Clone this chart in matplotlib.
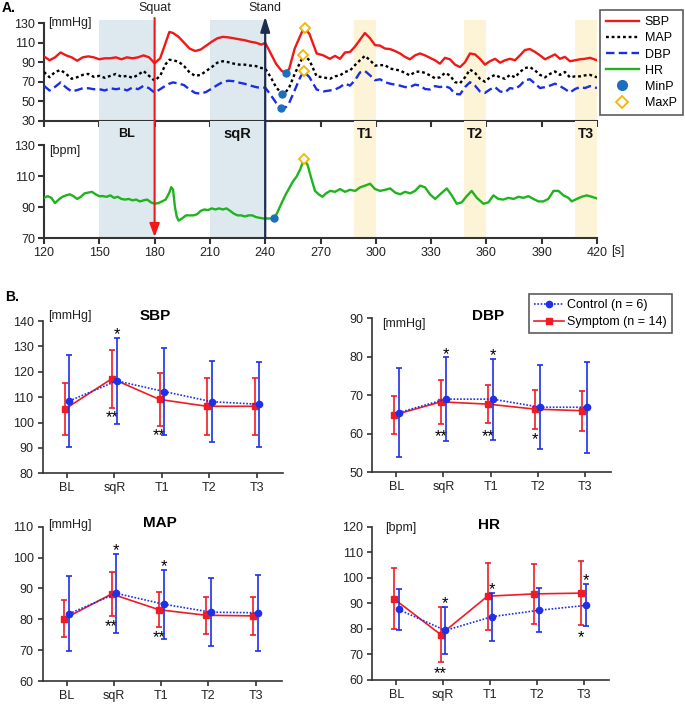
import numpy as np
import matplotlib.pyplot as plt
from matplotlib.lines import Line2D
from matplotlib.patches import FancyArrowPatch
import matplotlib.transforms as mtransforms

plt.rcParams['font.family'] = ['Liberation Sans', 'DejaVu Sans']

# ---------------- panel A: continuous recordings ----------------
bp_t = [120, 123, 126, 129, 132, 135, 138, 141, 144, 147, 150, 153, 156, 159, 162, 165,
        168, 171, 174, 177, 180, 183, 186, 188, 190, 193, 196, 199, 202, 205, 208, 211,
        214, 217, 220, 223, 226, 229, 232, 235, 238, 240, 243, 246, 249, 251, 253, 256,
        259, 261, 264,
        267.9, 271.5, 275.1, 277.9, 280.6, 283.3, 286.0, 288.7, 291.4, 294.1, 296.9, 299.6,
        302.3, 305.0, 307.7, 310.4, 313.1, 315.8, 318.5, 321.3, 324.0, 326.7, 329.4, 332.1,
        334.8, 337.5, 340.2, 343.0, 345.7, 348.4, 351.1, 353.8, 356.5, 359.2, 361.9, 364.7,
        367.4, 370.1, 372.8, 375.5, 378.2, 380.9, 383.6, 386.4, 389.1, 391.8, 394.5, 397.2,
        399.9, 402.6, 405.3, 408.1, 410.8, 413.5, 416.2, 420]

sbp = [96, 92, 95, 100, 97, 95, 91.5, 95, 96, 95, 93, 94, 94, 95, 93, 95,
       94, 95, 97, 95, 89, 94, 110, 121, 120, 116, 110, 104, 101.5, 103, 107, 111,
       114.5, 116, 115.5, 114.5, 113.5, 112.5, 111, 110, 108, 110, 99, 88, 81, 79.5, 83, 104,
       117, 125.5, 119,
       99, 97, 93.5, 96.5, 93.5, 100, 100.5, 106, 113, 120, 114.5, 107.5,
       107, 104, 103.5, 101.5, 99, 95.5, 93, 97, 99, 97, 94.5, 92,
       88.5, 94.5, 93, 87.5, 85, 90, 99, 98, 93.5, 87.5, 91, 93.5,
       89.5, 92, 93.5, 92, 97, 102.5, 103.5, 100.5, 97, 93, 95.5, 98,
       93.5, 95.5, 91, 92, 93, 93.5, 94.5, 92]

mapr = [80, 74.6, 80, 82, 78, 73, 74.6, 77, 78, 75, 76, 74, 76, 78, 75, 76,
        74, 77, 81, 76, 71, 76, 88, 92.5, 92, 90.5, 86, 79.5, 76, 77, 81, 85,
        89.5, 91, 90, 88.5, 87.5, 87.5, 86.5, 86, 84, 83.5, 74.6, 64, 58, 59, 64, 78,
        90, 97, 92,
        75.5, 74.5, 73, 75.5, 76.5, 80, 81.5, 87, 92, 96.5, 92, 86.5,
        87, 87, 83.5, 82.5, 81.5, 79, 76.5, 80, 80.5, 79, 76.5, 73.5,
        74.5, 79, 76.5, 69.5, 68.5, 74.5, 82.5, 79, 73, 70, 74.5, 77,
        74.5, 73, 77, 74.5, 80, 84, 85, 81.5, 77, 74.5, 78, 80.5,
        77, 80, 74.5, 75.5, 75.5, 76.5, 77, 74.5]

dbp = [65.8, 61, 64.7, 69.3, 64, 60, 61.4, 63.3, 63.3, 62.3, 62.3, 61, 63.3, 62.3, 63.3, 61,
       64, 62.3, 65.8, 63.3, 58.8, 62.3, 66, 68, 69.3, 68, 66.5, 62, 58.5, 57.7, 59.5, 63,
       66.5, 69.8, 71, 70.5, 69, 67.8, 66, 64.5, 63.5, 64, 56.3, 48.2, 43, 43.5, 48.2, 61.2,
       74.6, 80.5, 74.6,
       62, 60, 61, 62, 64.5, 68, 66, 71.5, 79.5, 81, 76.5, 71.5,
       72.5, 69.5, 68, 67, 66, 64.5, 64.5, 67, 66, 62.5, 62, 65.5,
       64.5, 65.5, 63.5, 57.5, 57, 64.5, 69.5, 66, 60, 58.5, 62, 64.5,
       60, 59, 63.5, 62.5, 66, 71.5, 72.5, 68, 63.5, 64.5, 66, 68,
       65.5, 62.5, 59, 62.5, 64.5, 63.5, 65.5, 63.5]

hr_t = [120, 122, 124, 126, 128, 130, 132, 134, 136, 138, 140, 142, 144, 146, 148, 150,
        152, 154, 156, 158, 160, 162, 164, 166, 168, 170, 172, 174, 176, 178, 180, 182,
        184, 186, 188, 189, 190, 191, 192, 193, 195, 197, 199, 201, 203, 205, 207, 209,
        211, 213, 215, 217, 219, 221, 223, 225, 227, 229, 231, 233, 235, 237, 239, 241,
        243, 245, 247, 249, 251, 253, 255, 257, 259, 261, 263, 265, 267, 269, 271, 273,
        275.2, 277.9, 280.6, 283.3, 286, 288.8, 291.5, 294.2, 296.9, 299.6, 302.3, 305,
        307.8, 310.5, 313.2, 315.9, 318.6, 321.3, 324, 326.7, 329.4, 332.2, 334.9, 338.5,
        341.2, 343.9, 346.6, 349.3, 352, 354.8, 358.4, 361.1, 363.8, 366.5, 369.2, 371.9,
        374.7, 377.4, 380.1, 382.8, 385.5, 388.2, 390.9, 393.6, 396.4, 399.1, 401.8, 404.5,
        406.3, 409, 411.7, 414.4, 417.2, 420]
hr = [96.1, 97.2, 96.1, 92.7, 95, 96.8, 97.7, 98.4, 97.2, 95.4, 96.8, 99, 99.5, 100, 98.4, 97.2,
      97.2, 96.8, 97.7, 96.1, 96.8, 95.4, 95, 95.4, 94.5, 95, 93.8, 94.5, 95, 93.2, 92.3, 92.7,
      93.8, 95, 99.5, 103, 101.5, 90.5, 84, 81.4, 82.9, 84.8, 84.8, 84.8, 85.5, 87.7, 88.6, 88.2,
      89.3, 88.6, 89.3, 88.6, 89.3, 87.7, 85.9, 84.8, 84.8, 84.1, 84.8, 84.8, 83.7, 83.2, 82.8, 82.8,
      82.8, 83, 87.7, 93, 98, 102.3, 106.6, 109.8, 114.5, 121, 117.3, 108.7, 100.6, 98.4, 96.8, 99,
      100.6, 100, 101.8, 100, 101.3, 100.6, 102.9, 104, 105.2, 101.8, 100.6, 101.3,
      102.2, 99.5, 98.4, 100, 99, 100.6, 104, 102.9, 98.4, 95.4, 98.4, 102.2,
      97.7, 92.3, 93.2, 97.2, 100.6, 96.1, 92.3, 93.2, 97.7, 95.4, 95, 96.1,
      95.4, 96.8, 96.1, 97.2, 95.4, 93.8, 93.8, 95.4, 100.6, 100.6, 97.7, 96.1,
      93.8, 95.4, 96.8, 97.7, 96.8, 95.7]

minp_bp_t = [251.1, 249.3, 248.4]
minp_bp_v = [79.3, 57.9, 43.2]
maxp_bp_t = [261.4, 260.7, 261.1]
maxp_bp_v = [125.4, 97.2, 80.8]
minp_hr = (245, 83)
maxp_hr = (261.3, 121)

blue_bands = [(150, 180, 'BL', 9), (210, 240, 'sqR', 10.5)]
yellow_bands = [(288, 300, 'T1', 10), (348, 360, 'T2', 10), (408, 420, 'T3', 10)]

# ---------------- panel B: group means +- SD ----------------
phases = ['BL', 'sqR', 'T1', 'T2', 'T3']
sbp_ctrl = [108.5, 116.4, 112.2, 108.2, 107.2]
sbp_ctrl_sd = [18.2, 16.9, 17.1, 16.0, 16.8]
sbp_sym = [105.2, 117.3, 109.1, 106.4, 106.4]
sbp_sym_sd = [10.2, 11.4, 10.6, 11.3, 11.3]
dbp_ctrl = [65.5, 69.0, 69.0, 66.9, 66.9]
dbp_ctrl_sd = [11.6, 11.0, 10.5, 10.9, 11.8]
dbp_sym = [64.9, 68.3, 67.7, 66.4, 66.0]
dbp_sym_sd = [5.0, 5.8, 5.0, 5.1, 5.2]
map_ctrl = [81.8, 88.4, 84.9, 82.3, 82.1]
map_ctrl_sd = [12.2, 12.7, 11.2, 11.0, 12.3]
map_sym = [80.2, 88.2, 83.1, 81.3, 81.1]
map_sym_sd = [6.0, 7.1, 5.7, 6.0, 6.2]
hr_ctrl = [87.6, 79.4, 84.8, 87.3, 89.2]
hr_ctrl_sd = [8.0, 9.2, 9.4, 8.6, 8.2]
hr_sym = [91.8, 77.8, 92.8, 93.7, 94.0]
hr_sym_sd = [12.0, 10.7, 13.1, 11.7, 12.4]

# (x position, y, text)
sbp_stars = [(1.05, 135.8, '*'), (0.95, 103.2, '**'), (1.95, 96.0, '**')]
dbp_stars = [(1.05, 81.5, '*'), (0.95, 60.1, '**'), (2.05, 81.1, '*'), (1.95, 60.1, '**'), (2.95, 59.3, '*')]
map_stars = [(1.05, 103.2, '*'), (0.95, 78.5, '**'), (2.05, 98.1, '*'), (1.95, 75.2, '**')]
hr_stars = [(1.05, 91.3, '*'), (0.95, 63.9, '**'), (2.05, 96.5, '*'), (4.05, 100.2, '*'), (3.95, 78.0, '*')]

RED = '#f01818'
BLUE_DBP = '#1a2ee6'
GREEN = '#1eb41e'
MINC = '#1c6fbf'
MAXC = '#f5b400'
NAVY = '#1b2d4f'
SPINE = '#333333'
B_RED = '#ee1c24'
B_BLUE = '#1e30e8'

W, H = 685, 704
fig = plt.figure(figsize=(6.85, 7.04), dpi=100)


def fx(px):
    return px / W


def fy(py):
    return 1 - py / H


axBP = fig.add_axes([fx(44), fy(120.7), (597 - 44) / W, (120.7 - 20) / H])
axHR = fig.add_axes([fx(44), fy(238.3), (597 - 44) / W, (238.3 - 120.7) / H])

for ax in (axBP, axHR):
    for a, b, lab, fs in blue_bands:
        ax.axvspan(a, b, color='#dde9ef', lw=0, zorder=0)
    for a, b, lab, fs in yellow_bands:
        ax.axvspan(a, b, color='#fdf4d8', lw=0, zorder=0)
    ax.set_xlim(120, 420)
    ax.spines[['top', 'right']].set_visible(False)
    for s in ('left', 'bottom'):
        ax.spines[s].set_color(SPINE)
        ax.spines[s].set_linewidth(1.5)
    ax.tick_params(length=4.5, width=1.5, color=SPINE, labelsize=9, labelcolor='#222222', pad=2)
    ax.set_xticks(range(120, 421, 30))
    ax.patch.set_alpha(0)

axBP.plot(bp_t, sbp, color=RED, lw=1.7, zorder=3)
axBP.plot(bp_t, mapr, color='black', lw=1.7, ls=(0, (1.2, 1.2)), zorder=3)
axBP.plot(bp_t, dbp, color=BLUE_DBP, lw=1.7, ls=(0, (3.6, 1.8)), zorder=3)
axBP.plot(minp_bp_t, minp_bp_v, 'o', color=MINC, ms=5, zorder=4)
axBP.plot(maxp_bp_t, maxp_bp_v, 'D', mfc='white', mec=MAXC, mew=1.3, ms=5, zorder=4)
axBP.set_ylim(30, 133.3)
axBP.spines['left'].set_bounds(30, 130)
axBP.set_yticks(range(30, 131, 20))
axBP.tick_params(axis='x', labelbottom=False)
axBP.text(122.5, 130, '[mmHg]', fontsize=9, va='center', ha='left', color='#222222')

axHR.plot(hr_t, hr, color=GREEN, lw=1.7, zorder=3)
axHR.plot(*minp_hr, 'o', color=MINC, ms=5, zorder=4)
axHR.plot(*maxp_hr, 'D', mfc='white', mec=MAXC, mew=1.3, ms=5, zorder=4)
axHR.set_ylim(70, 145.9)
axHR.spines['left'].set_bounds(70, 130)
axHR.set_yticks(range(70, 131, 20))
axHR.text(123, 126.5, '[bpm]', fontsize=9, va='center', ha='left', color='#222222')
for a, b, lab, fs in blue_bands + yellow_bands:
    axHR.text((a + b) / 2, 137, lab, fontsize=fs, fontweight='bold', ha='center', va='center', color='#111111')

fig.text(fx(611.5), fy(251), '[s]', fontsize=9, va='center', ha='left', color='#222222')

# event arrows
trans = mtransforms.blended_transform_factory(axHR.transData, fig.transFigure)
fig.add_artist(FancyArrowPatch((180, fy(18)), (180, fy(237)), transform=trans,
                               arrowstyle='-|>,head_length=0.8,head_width=0.3', mutation_scale=10,
                               color=RED, lw=1.5, shrinkA=0, shrinkB=0, zorder=5))
fig.add_artist(FancyArrowPatch((240, fy(238.3)), (240, fy(16.5)), transform=trans,
                               arrowstyle='-|>,head_length=0.9,head_width=0.28', mutation_scale=10,
                               color=NAVY, lw=1.6, shrinkA=0, shrinkB=0, zorder=5))
fig.text(fx(154.6), fy(8), 'Squat', fontsize=9, ha='center', va='center', color='#222222')
fig.text(fx(265.2), fy(8), 'Stand', fontsize=9, ha='center', va='center', color='#222222')
fig.text(fx(2), fy(8.5), 'A.', fontsize=10, fontweight='bold', va='center')
fig.text(fx(5), fy(297), 'B.', fontsize=10, fontweight='bold', va='center')

legA_handles = [
    Line2D([], [], color=RED, lw=1.7),
    Line2D([], [], color='black', lw=1.7, ls=(0, (1.2, 1.2))),
    Line2D([], [], color=BLUE_DBP, lw=1.7, ls=(0, (3.6, 1.8))),
    Line2D([], [], color=GREEN, lw=1.7),
    Line2D([], [], color=MINC, marker='o', ls='none', ms=7),
    Line2D([], [], mfc='white', mec=MAXC, marker='D', mew=1.3, ls='none', ms=6),
]
legA = fig.legend(legA_handles, ['SBP', 'MAP', 'DBP', 'HR', 'MinP', 'MaxP'],
                  loc='upper right', bbox_to_anchor=(fx(683), fy(10)), fontsize=9,
                  fancybox=False, edgecolor=SPINE, handlelength=2.6, labelspacing=0.33,
                  borderpad=0.5, handletextpad=0.5, borderaxespad=0)
legA.get_frame().set_linewidth(1.2)


# ---------------- panel B ----------------
def stats_panel(ax, ctrl, ctrl_sd, sym, sym_sd, ylim, step, title, unit, title_pos, unit_pos, stars):
    x = np.arange(len(phases))
    ax.errorbar(x - 0.05, sym, yerr=sym_sd, color=B_RED, marker='s', ms=4.5, lw=1.2,
                elinewidth=1.2, capsize=2.5, capthick=1.2, label='Symptom (n = 14)', zorder=3)
    ax.errorbar(x + 0.05, ctrl, yerr=ctrl_sd, color=B_BLUE, marker='o', ms=4.5, lw=1.2,
                ls=(0, (1, 1)), elinewidth=1.2, capsize=2.5, capthick=1.2,
                label='Control (n = 6)', zorder=4)
    ax.set_xlim(-0.51, 4.55)
    ax.set_ylim(*ylim)
    ax.set_yticks(np.arange(ylim[0], ylim[1] + 1, step))
    ax.set_xticks(x)
    ax.set_xticklabels(phases)
    ax.spines[['top', 'right']].set_visible(False)
    for s in ('left', 'bottom'):
        ax.spines[s].set_color(SPINE)
        ax.spines[s].set_linewidth(1.2)
    ax.tick_params(length=3.5, width=1.2, color=SPINE, labelsize=9, labelcolor='#222222', pad=3)
    ax.text(title_pos[0], title_pos[1], title, transform=ax.transAxes, fontsize=11,
            fontweight='bold', ha='center', va='center')
    ax.text(unit_pos[0], unit_pos[1], unit, transform=ax.transAxes, fontsize=9,
            ha='left', va='center', color='#222222')
    for sx, sy, st in stars:
        ax.annotate(st, (sx, sy), xytext=(0, -5.5), textcoords='offset points',
                    ha='center', va='baseline', fontsize=12)


axSBP = fig.add_axes([fx(42.7), fy(473.3), 240.3 / W, 152.3 / H])
axDBP = fig.add_axes([fx(372.3), fy(472.3), 238.4 / W, 154 / H])
axMAP = fig.add_axes([fx(42.7), fy(681), 239 / W, 154.3 / H])
axHR2 = fig.add_axes([fx(372.3), fy(680), 237 / W, 153.3 / H])

stats_panel(axSBP, sbp_ctrl, sbp_ctrl_sd, sbp_sym, sbp_sym_sd, (80, 140), 10, 'SBP', '[mmHg]',
            (0.467, 1.035), (0.022, 1.035), sbp_stars)
stats_panel(axDBP, dbp_ctrl, dbp_ctrl_sd, dbp_sym, dbp_sym_sd, (50, 90), 10, 'DBP', '[mmHg]',
            (0.485, 1.015), (0.04, 0.96), dbp_stars)
stats_panel(axMAP, map_ctrl, map_ctrl_sd, map_sym, map_sym_sd, (60, 110), 10, 'MAP', '[mmHg]',
            (0.49, 1.027), (0.022, 1.011), map_stars)
stats_panel(axHR2, hr_ctrl, hr_ctrl_sd, hr_sym, hr_sym_sd, (60, 120), 10, 'HR', '[bpm]',
            (0.492, 1.014), (0.053, 0.99), hr_stars)

legB_handles = [
    Line2D([], [], color=B_BLUE, marker='o', ms=4.5, lw=1.2, ls=(0, (1, 1))),
    Line2D([], [], color=B_RED, marker='s', ms=4.5, lw=1.2),
]
legB = fig.legend(legB_handles, ['Control (n = 6)', 'Symptom (n = 14)'], loc='upper right',
                  bbox_to_anchor=(fx(672), fy(294)), fontsize=9, fancybox=False, edgecolor=SPINE,
                  handlelength=2.4, labelspacing=0.4, borderpad=0.4, handletextpad=0.3,
                  borderaxespad=0)
legB.get_frame().set_linewidth(1.2)

fig.savefig('out.png', dpi=100)
